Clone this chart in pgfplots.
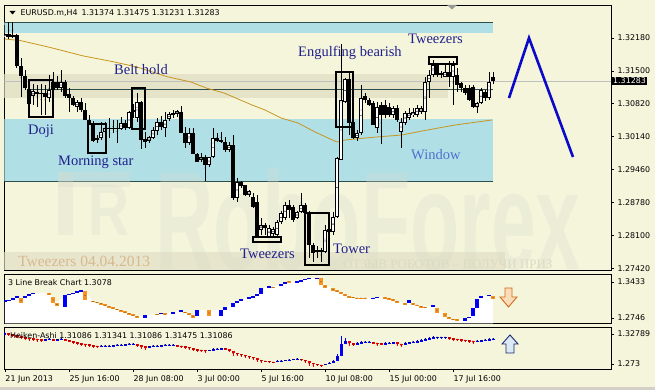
\documentclass[border=0pt]{standalone}
\usepackage{fontspec}
\setmainfont{Liberation Serif}
\newfontfamily\mtfont{DejaVu Sans}
\newfontfamily\wmfont{Liberation Sans}
\usepackage{graphicx}
\usepackage{pgfplots}
\pgfplotsset{compat=1.18}
\usepackage{pgfplotstable}

\definecolor{chartbg}{HTML}{F5F5DC}
\definecolor{bandcyan}{HTML}{B0E0E6}
\definecolor{bandbeige}{HTML}{E5E3C8}
\definecolor{bandlow}{HTML}{E7E5CB}
\definecolor{darkteal}{HTML}{2F4F4F}
\definecolor{maline}{HTML}{C8961E}
\definecolor{notenavy}{HTML}{20208C}
\definecolor{windowblue}{HTML}{4F6FD0}
\definecolor{tantext}{HTML}{D8B890}
\definecolor{wmcol}{HTML}{D8DCCC}
\definecolor{lbblue}{HTML}{0000FF}
\definecolor{lborange}{HTML}{F7931E}
\definecolor{hared}{HTML}{FF0000}
\definecolor{hablue}{HTML}{0000FF}
\definecolor{zigzag}{HTML}{0A0AC8}
\definecolor{winframe}{HTML}{D4D0C8}
\definecolor{downedge}{HTML}{D2691E}
\definecolor{downfill}{HTML}{F9DDB8}
\definecolor{upedge}{HTML}{1A2A6C}
\definecolor{upfill}{HTML}{DBE9F5}

% EURUSD H4 candles: index, open, high, low, close
\pgfplotstableread{
k o h l c
0 1.32200 1.32448 1.32014 1.32262
1 1.32262 1.32510 1.32159 1.32200
2 1.32200 1.32510 1.32180 1.32242
3 1.32242 1.32262 1.31559 1.31601
4 1.31601 1.31766 1.30960 1.31394
5 1.31394 1.31518 1.31105 1.31146
6 1.31125 1.31167 1.30774 1.30815
7 1.30981 1.31229 1.30795 1.31084
8 1.31063 1.31208 1.30753 1.31022
9 1.31022 1.31229 1.30588 1.31043
10 1.31043 1.31208 1.30588 1.30960
11 1.30939 1.31415 1.30857 1.31105
12 1.31105 1.31477 1.31001 1.31270
13 1.31270 1.31394 1.31105 1.31146
14 1.31146 1.31518 1.31063 1.31270
15 1.31270 1.31311 1.30939 1.30981
16 1.31022 1.31146 1.30650 1.30939
17 1.30939 1.30981 1.30774 1.30795
18 1.30753 1.30898 1.30650 1.30857
19 1.30857 1.30939 1.30650 1.30691
20 1.30691 1.30836 1.30485 1.30485
21 1.30485 1.30588 1.30381 1.30423
22 1.30423 1.30464 1.30030 1.30051
23 1.30071 1.30175 1.30009 1.30113
24 1.30113 1.30443 1.30071 1.30237
25 1.30237 1.30443 1.30195 1.30319
26 1.30319 1.30526 1.30113 1.30299
27 1.30299 1.30485 1.30216 1.30319
28 1.30319 1.30485 1.30009 1.30299
29 1.30299 1.30547 1.30278 1.30423
30 1.30423 1.30485 1.30278 1.30319
31 1.30319 1.30671 1.30299 1.30650
32 1.30650 1.30815 1.30526 1.30691
33 1.30526 1.31043 1.30443 1.30857
34 1.30857 1.30877 1.29885 1.30071
35 1.30092 1.30237 1.29906 1.30030
36 1.30051 1.30154 1.30009 1.30133
37 1.30113 1.30340 1.30092 1.30278
38 1.30257 1.30526 1.30175 1.30443
39 1.30443 1.30567 1.30278 1.30340
40 1.30319 1.30650 1.30133 1.30485
41 1.30505 1.30650 1.30464 1.30609
42 1.30609 1.30691 1.30526 1.30629
43 1.30609 1.30691 1.30547 1.30671
44 1.30650 1.30774 1.30216 1.30216
45 1.30216 1.30340 1.29906 1.30009
46 1.30009 1.30319 1.29968 1.30216
47 1.30216 1.30319 1.29782 1.29782
48 1.29782 1.29802 1.29616 1.29616
49 1.29658 1.29802 1.29616 1.29720
50 1.29720 1.29761 1.29224 1.29554
51 1.29554 1.29720 1.29513 1.29720
52 1.29720 1.30319 1.29699 1.30113
53 1.30113 1.30216 1.30030 1.30051
54 1.30071 1.30237 1.30009 1.30030
55 1.30030 1.30133 1.29823 1.29865
56 1.29865 1.30030 1.29823 1.29968
57 1.29968 1.30175 1.28831 1.28872
58 1.28872 1.29286 1.28790 1.29203
59 1.29203 1.29224 1.29079 1.29120
60 1.29141 1.29141 1.28914 1.28934
61 1.28934 1.29038 1.28893 1.29017
62 1.28893 1.28976 1.28666 1.28686
63 1.28790 1.28934 1.28066 1.28066
64 1.28211 1.28459 1.28108 1.28314
65 1.28314 1.28356 1.28108 1.28252
66 1.28066 1.28314 1.28046 1.28252
67 1.28128 1.28273 1.28066 1.28232
68 1.28108 1.28418 1.28066 1.28376
69 1.28376 1.28604 1.28335 1.28562
70 1.28459 1.28790 1.28418 1.28728
71 1.28728 1.28831 1.28459 1.28624
72 1.28686 1.28728 1.28376 1.28418
73 1.28459 1.28604 1.28438 1.28583
74 1.28583 1.28976 1.28562 1.28728
75 1.28728 1.28769 1.28521 1.28562
76 1.28562 1.28604 1.27632 1.27901
77 1.27901 1.27942 1.27549 1.27735
78 1.27797 1.27880 1.27632 1.27756
79 1.27756 1.27839 1.27549 1.27797
80 1.27756 1.28314 1.27735 1.28211
81 1.28170 1.28294 1.28087 1.28232
82 1.28170 1.28583 1.28108 1.28480
83 1.28480 1.29720 1.28459 1.29699
84 1.29658 1.32056 1.29658 1.30898
85 1.30857 1.31353 1.30836 1.31332
86 1.31332 1.31456 1.30175 1.30423
87 1.30443 1.30485 1.30092 1.30113
88 1.30113 1.30278 1.30051 1.30216
89 1.30216 1.31208 1.30175 1.30939
90 1.30981 1.31043 1.30836 1.30898
91 1.30898 1.30939 1.30774 1.30795
92 1.30836 1.30877 1.30381 1.30381
93 1.30319 1.30857 1.30216 1.30753
94 1.30795 1.30857 1.29989 1.30588
95 1.30795 1.30898 1.30526 1.30588
96 1.30753 1.30836 1.30547 1.30588
97 1.30588 1.30774 1.30526 1.30733
98 1.30733 1.30795 1.30443 1.30485
99 1.30237 1.30526 1.29906 1.30443
100 1.30423 1.30671 1.30381 1.30629
101 1.30526 1.30733 1.30485 1.30629
102 1.30588 1.30733 1.30547 1.30650
103 1.30588 1.30795 1.30547 1.30733
104 1.30650 1.30774 1.30609 1.30733
105 1.30650 1.31373 1.30485 1.31270
106 1.31270 1.31518 1.30939 1.31415
107 1.31415 1.31725 1.31373 1.31621
108 1.31642 1.31663 1.31373 1.31415
109 1.31456 1.31497 1.31353 1.31415
110 1.31373 1.31621 1.31373 1.31477
111 1.31477 1.31704 1.31167 1.31373
112 1.31373 1.31704 1.30795 1.31621
113 1.31415 1.31559 1.31063 1.31208
114 1.31249 1.31270 1.31063 1.31146
115 1.31146 1.31208 1.31001 1.31043
116 1.31146 1.31208 1.30877 1.30898
117 1.31167 1.31208 1.30733 1.30753
118 1.30753 1.30857 1.30629 1.30836
119 1.30836 1.31146 1.30815 1.31105
120 1.31063 1.31105 1.30877 1.30939
121 1.30939 1.31477 1.30898 1.31270
122 1.31374 1.31475 1.31231 1.31283
}\candles

% 3 Line Break blocks: index, low, high, direction (1 up, 0 down)
\pgfplotstableread{
k lo hi up
0 1.30609 1.30800 1
1 1.30705 1.30896 1
2 1.30896 1.31277 1
3 1.31277 1.31563 1
4 1.30323 1.31277 0
5 1.31277 1.31659 1
6 1.31754 1.32041 1
7 1.32041 1.32231 1
11 1.31850 1.32231 0
12 1.30323 1.31468 0
13 1.29751 1.30323 0
15 1.29560 1.31850 1
16 1.31850 1.32041 1
17 1.32041 1.32231 1
18 1.32327 1.32517 1
19 1.32517 1.32708 1
20 1.30896 1.32613 0
22 1.30514 1.30705 0
23 1.30323 1.30514 0
24 1.30037 1.30323 0
25 1.29751 1.30037 0
26 1.29503 1.29751 0
27 1.29236 1.29503 0
28 1.28988 1.29236 0
29 1.28740 1.28988 0
30 1.28415 1.28701 0
31 1.28129 1.28415 0
32 1.27843 1.28129 0
33 1.27556 1.27843 0
35 1.27556 1.28034 1
38 1.28034 1.28224 0
39 1.28224 1.28415 1
40 1.28129 1.28320 0
42 1.28224 1.28606 1
44 1.28549 1.28892 1
45 1.28358 1.28663 0
46 1.28034 1.28358 0
47 1.27556 1.27938 0
48 1.27843 1.28988 1
51 1.27843 1.28988 0
54 1.27843 1.28988 1
55 1.28988 1.29560 1
57 1.29617 1.30266 1
58 1.30266 1.30705 1
59 1.30705 1.31029 1
61 1.30991 1.31373 1
62 1.31430 1.31621 1
63 1.31563 1.32041 1
64 1.32041 1.33128 1
66 1.33338 1.33567 1
67 1.33223 1.33414 0
69 1.33567 1.33948 1
70 1.34101 1.34292 1
71 1.34292 1.34483 0
73 1.34292 1.34483 1
74 1.34464 1.34712 1
75 1.34712 1.34902 1
76 1.34941 1.35131 1
78 1.34941 1.35131 1
79 1.33758 1.35036 0
80 1.33128 1.33758 0
82 1.32670 1.33128 0
83 1.32365 1.32708 0
84 1.32041 1.32422 0
85 1.31659 1.32041 0
86 1.31277 1.31659 0
87 1.31315 1.31468 0
88 1.31220 1.31334 0
89 1.31220 1.31334 0
90 1.31220 1.31334 0
92 1.31182 1.31334 1
93 1.31315 1.31468 1
95 1.31220 1.31373 0
96 1.31048 1.31220 0
97 1.30800 1.30991 0
98 1.30476 1.30648 0
100 1.29999 1.30266 0
101 1.30266 1.30896 1
102 1.29999 1.30266 0
103 1.29846 1.29999 0
104 1.29522 1.29713 0
105 1.29407 1.29560 0
107 1.29503 1.29942 1
108 1.28358 1.29312 0
110 1.27709 1.28358 0
111 1.27328 1.27709 0
112 1.27137 1.27328 0
113 1.27022 1.27175 0
115 1.26946 1.27404 1
116 1.27404 1.27709 1
117 1.27843 1.29312 1
118 1.29312 1.31029 1
119 1.31220 1.31659 1
121 1.31659 1.31850 1
122 1.31029 1.31659 0
}\lbdata

% Heiken-Ashi candles: index, open, high, low, close, direction
\pgfplotstableread{
k o h l c up
0 1.32789 1.33155 1.32789 1.32972 1
1 1.32972 1.32972 1.32423 1.32789 0
2 1.32789 1.32789 1.32240 1.32606 0
3 1.32606 1.32606 1.32057 1.32423 0
4 1.32423 1.32423 1.31874 1.32240 0
5 1.32240 1.32240 1.31691 1.32057 0
6 1.32057 1.32057 1.31508 1.32057 0
7 1.32057 1.32057 1.31508 1.31874 0
8 1.31874 1.31874 1.31325 1.31874 0
9 1.31874 1.31874 1.31325 1.31691 0
10 1.31691 1.31874 1.31691 1.31874 1
11 1.31874 1.32057 1.31874 1.31874 1
12 1.31874 1.31874 1.31508 1.31691 0
13 1.31691 1.31874 1.31691 1.31874 1
14 1.31874 1.32057 1.31874 1.31874 1
15 1.31874 1.31874 1.31508 1.31691 0
16 1.31691 1.31691 1.31325 1.31508 0
17 1.31508 1.31508 1.30959 1.31325 0
18 1.31325 1.31325 1.30776 1.31142 0
19 1.31142 1.31142 1.30593 1.30959 0
20 1.30959 1.30959 1.30410 1.30959 0
21 1.30959 1.30959 1.30410 1.30776 0
22 1.30776 1.30776 1.30227 1.30593 0
23 1.30593 1.30593 1.30227 1.30593 0
24 1.30593 1.30776 1.30593 1.30593 1
25 1.30593 1.30776 1.30593 1.30593 1
26 1.30593 1.30776 1.30593 1.30593 1
27 1.30593 1.30776 1.30593 1.30776 1
28 1.30776 1.30959 1.30776 1.30776 1
29 1.30776 1.30959 1.30776 1.30776 1
30 1.30776 1.30959 1.30776 1.30959 1
31 1.30959 1.31142 1.30959 1.30959 1
32 1.30959 1.31142 1.30959 1.30959 1
33 1.30959 1.30959 1.30410 1.30776 0
34 1.30776 1.30776 1.30044 1.30593 0
35 1.30593 1.30593 1.29861 1.30410 0
36 1.30410 1.30593 1.30410 1.30593 1
37 1.30593 1.30776 1.30593 1.30593 1
38 1.30593 1.30776 1.30593 1.30593 1
39 1.30593 1.30776 1.30593 1.30776 1
40 1.30776 1.30959 1.30776 1.30776 1
41 1.30776 1.30959 1.30776 1.30776 1
42 1.30776 1.30959 1.30776 1.30776 1
43 1.30776 1.30776 1.30410 1.30593 0
44 1.30593 1.30593 1.30227 1.30593 0
45 1.30593 1.30593 1.30044 1.30410 0
46 1.30410 1.30410 1.29861 1.30227 0
47 1.30227 1.30227 1.29678 1.30044 0
48 1.30044 1.30044 1.29495 1.29861 0
49 1.29861 1.29861 1.29495 1.29861 0
50 1.29861 1.29861 1.29312 1.29678 0
51 1.29678 1.29861 1.29678 1.29861 1
52 1.29861 1.30227 1.29861 1.30044 1
53 1.30044 1.30227 1.30044 1.30044 1
54 1.30044 1.30227 1.30044 1.30227 1
55 1.30227 1.30227 1.29861 1.30044 0
56 1.30044 1.30044 1.29495 1.29678 0
57 1.29678 1.29678 1.28763 1.29312 0
58 1.29312 1.29312 1.28763 1.29129 0
59 1.29129 1.29129 1.28580 1.28946 0
60 1.28946 1.28946 1.28397 1.28763 0
61 1.28763 1.28763 1.28214 1.28580 0
62 1.28580 1.28580 1.28031 1.28397 0
63 1.28397 1.28397 1.27665 1.28031 0
64 1.28031 1.28031 1.27482 1.27848 0
65 1.27848 1.27848 1.27665 1.27848 0
66 1.27848 1.27848 1.27482 1.27665 0
67 1.27665 1.27665 1.27482 1.27665 0
68 1.27665 1.28031 1.27665 1.27848 1
69 1.27848 1.28031 1.27848 1.27848 1
70 1.27848 1.28031 1.27848 1.28031 1
71 1.28031 1.28214 1.28031 1.28031 1
72 1.28031 1.28214 1.28031 1.28214 1
73 1.28214 1.28397 1.28214 1.28214 1
74 1.28214 1.28214 1.27848 1.28031 0
75 1.28031 1.28031 1.27482 1.27848 0
76 1.27848 1.27848 1.26933 1.27482 0
77 1.27482 1.27482 1.26750 1.27299 0
78 1.27299 1.27299 1.26933 1.27116 0
79 1.27116 1.27116 1.26750 1.27116 0
80 1.27116 1.27299 1.27116 1.27299 1
81 1.27299 1.27665 1.27299 1.27482 1
82 1.27482 1.28031 1.27482 1.27848 1
83 1.27848 1.29129 1.27848 1.28763 1
84 1.28763 1.32423 1.28763 1.30959 1
85 1.30959 1.32057 1.30959 1.31508 1
86 1.31508 1.31508 1.30593 1.31142 0
87 1.31142 1.31142 1.30593 1.30959 0
88 1.30959 1.31325 1.30959 1.31142 1
89 1.31142 1.31508 1.31142 1.31325 1
90 1.31325 1.31508 1.31325 1.31325 1
91 1.31325 1.31508 1.31325 1.31325 1
92 1.31325 1.31325 1.30959 1.31142 0
93 1.31142 1.31142 1.30593 1.31142 0
94 1.31142 1.31142 1.30776 1.30959 0
95 1.30959 1.31325 1.30959 1.31142 1
96 1.31142 1.31325 1.31142 1.31142 1
97 1.31142 1.31325 1.31142 1.31325 1
98 1.31325 1.31325 1.30593 1.30959 0
99 1.30959 1.30959 1.30410 1.30959 0
100 1.30959 1.31325 1.30959 1.31142 1
101 1.31142 1.31325 1.31142 1.31325 1
102 1.31325 1.31508 1.31325 1.31325 1
103 1.31325 1.31691 1.31325 1.31508 1
104 1.31508 1.31874 1.31508 1.31691 1
105 1.31691 1.32057 1.31691 1.31874 1
106 1.31874 1.32240 1.31874 1.32057 1
107 1.32057 1.32423 1.32057 1.32240 1
108 1.32240 1.32240 1.32057 1.32240 1
109 1.32240 1.32240 1.32057 1.32240 1
110 1.32240 1.32240 1.32057 1.32240 1
111 1.32240 1.32240 1.31691 1.32057 0
112 1.32057 1.32057 1.31508 1.31874 0
113 1.31874 1.31874 1.31508 1.31874 0
114 1.31874 1.31874 1.31325 1.31691 0
115 1.31691 1.31691 1.31325 1.31691 0
116 1.31691 1.31691 1.31142 1.31508 0
117 1.31508 1.31508 1.30959 1.31508 0
118 1.31508 1.31691 1.31508 1.31508 1
119 1.31508 1.31691 1.31508 1.31691 1
120 1.31691 1.31874 1.31691 1.31691 1
121 1.31691 1.32057 1.31691 1.31874 1
122 1.31874 1.32057 1.31874 1.31874 1
}\hadata

\pgfplotsset{
  mtpanel/.style={
    scale only axis, width=606.5pt, xmin=-0.125, xmax=151.5,
    anchor=south west,
    axis line style={black, line width=0.8pt},
    axis background/.style={fill=chartbg},
    xtick=\empty,
    ytick pos=right, yticklabel pos=right,
    tick align=outside, major tick length=3pt,
    tick style={black, line width=0.6pt},
    ticklabel style={font=\mtfont\fontsize{7.9}{9}\selectfont},
  },
  % vertical bars drawn as error bars only (no visible markers)
  ebar/.style n args={2}{only marks, mark=*, mark size=0.1pt,
    mark options={draw=none, fill=none},
    error bars/.cd, y dir=both, y explicit, error mark=none,
    error bar style={draw=#1, line width=#2}},
}

\begin{document}
\begin{tikzpicture}
\path[use as bounding box] (0pt,0pt) rectangle (655pt,390pt);
\fill[chartbg] (0pt,0pt) rectangle (655pt,390pt);
\fill[winframe] (0pt,0pt) rectangle (655pt,2.5pt);

% ---------------- main price panel ----------------
\begin{axis}[mtpanel, at={(4.5pt,120pt)}, height=265pt,
  ymin=1.27384, ymax=1.32862,
  ytick={1.27420,1.28100,1.28780,1.29460,1.30140,1.30820,1.31500,1.32180},
  yticklabels={1.27420,1.28100,1.28780,1.29460,1.30140,1.30820,1.31500,1.32180}]

  % zones
  \fill[bandcyan] (axis cs:-0.125,1.32510) rectangle (axis cs:122,1.32273);
  \fill[bandcyan] (axis cs:-0.125,1.30497) rectangle (axis cs:122,1.29214);
  \fill[bandbeige] (axis cs:-0.125,1.31436) rectangle (axis cs:110.75,1.30939);
  \fill[bandlow] (axis cs:-0.125,1.27756) rectangle (axis cs:125,1.27384);
  \draw[darkteal, line width=0.8pt] (axis cs:-0.125,1.32510) -- (axis cs:122,1.32510);
  \draw[darkteal, line width=0.8pt] (axis cs:-0.125,1.29214) -- (axis cs:122,1.29214);

  % watermark logo and name
  \begin{scope}[wmcol, opacity=0.3]
    \fill (axis cs:13.25,1.29410) rectangle (axis cs:17,1.28100);
    \fill (axis cs:13.25,1.29410) rectangle (axis cs:31.25,1.29100);
  \end{scope}
  \node[anchor=base west, inner sep=0pt, text=wmcol, text opacity=0.3]
    at (axis cs:20.75,1.28100) {\scalebox{0.78}[1]{\wmfont\bfseries\fontsize{73}{73}\selectfont R}};
  \node[anchor=base west, inner sep=0pt, text=wmcol, text opacity=0.3]
    at (axis cs:37.5,1.27384) {\scalebox{0.576}[1]{\wmfont\bfseries\fontsize{140}{140}\selectfont RoboForex}};

  \node[anchor=base west, inner sep=0pt, text=tantext, font=\fontsize{15.5}{16}\selectfont]
    at (axis cs:3.25,1.27446) {Tweezers 04.04.2013};
  \node[anchor=base west, inner sep=0pt, text=black!5!bandlow, font=\fontsize{13}{14}\selectfont]
    at (axis cs:84.5,1.27425) {ОТЗЫВ РОБОТОВ – ПОЛУЧИ ПРИЗ};

  % level lines
  \draw[black!25, line width=0.6pt] (axis cs:-0.125,1.31283) -- (axis cs:151.5,1.31283);
  \draw[darkteal, line width=0.8pt] (axis cs:5.5,1.31125) -- (axis cs:122,1.31125);

  % moving average
  \addplot[maline, line width=0.8pt] coordinates {
    (0,1.32159) (4,1.32124) (11,1.31990) (19.5,1.31810) (27,1.31690) (33,1.31580)
    (40.5,1.31380) (46.5,1.31270) (50.5,1.31140) (54.75,1.31043) (61.75,1.30795)
    (65,1.30691) (69,1.30526) (73.25,1.30423) (77.5,1.30237) (80.75,1.30113)
    (83,1.30030) (85,1.30071) (92.75,1.30133) (99.25,1.30175) (104.25,1.30257)
    (112.5,1.30381) (121.75,1.30485)};

  % candles: shadows, bodies, hollow interiors of rising candles
  \addplot[ebar={black}{1pt}] table[x=k,
    y expr={0.5*(\thisrow{h}+\thisrow{l})},
    y error expr={0.5*(\thisrow{h}-\thisrow{l})}] {\candles};
  \addplot[ebar={black}{3.4pt}] table[x=k,
    y expr={0.5*(\thisrow{o}+\thisrow{c})},
    y error expr={max(0.5*abs(\thisrow{c}-\thisrow{o}),0.0001)}] {\candles};
  \addplot[ebar={white}{1.4pt}] table[x=k,
    y expr={0.5*(\thisrow{o}+\thisrow{c})},
    y error expr={max(0.5*(\thisrow{c}-\thisrow{o})-0.00021,0)}] {\candles};

  % pattern frames
  \begin{scope}[black, line width=1.8pt]
    \draw (axis cs:6,1.31311) rectangle (axis cs:12,1.30547);
    \draw (axis cs:20.75,1.30402) rectangle (axis cs:25.25,1.29802);
    \draw (axis cs:31.75,1.31146) rectangle (axis cs:35,1.30299);
    \draw (axis cs:82.75,1.31477) rectangle (axis cs:87,1.30340);
    \draw (axis cs:106,1.31787) rectangle (axis cs:113,1.31642);
    \draw (axis cs:62,1.28066) rectangle (axis cs:69,1.27963);
    \draw (axis cs:75,1.28562) rectangle (axis cs:81,1.27487);
  \end{scope}

  % pattern names
  \begin{scope}[every node/.style={anchor=base west, inner sep=0pt, text=notenavy,
      font=\fontsize{14.5}{15}\selectfont}]
    \node at (axis cs:5.75,1.30195) {Doji};
    \node at (axis cs:13.25,1.29534) {Morning star};
    \node at (axis cs:27.25,1.31415) {Belt hold};
    \node at (axis cs:73.25,1.31787) {Engulfing bearish};
    \node at (axis cs:100.75,1.32076) {Tweezers};
    \node at (axis cs:58.75,1.27632) {Tweezers};
    \node at (axis cs:82,1.27735) {Tower};
    \node[text=windowblue] at (axis cs:101.5,1.29658) {Window};
  \end{scope}

  % expected path
  \addplot[zigzag, line width=2.6pt] coordinates {(126,1.30939) (131,1.32180) (142,1.29720)};
\end{axis}

% ---------------- 3 Line Break panel ----------------
\begin{axis}[mtpanel, at={(4.5pt,66.5pt)}, height=49.5pt,
  ymin=1.26412, ymax=1.35856,
  ytick={1.2746,1.3433}, yticklabels={1.2746,1.3433}]
  \addplot[fill=white, draw=none] table[x=k, y=hi] {\lbdata} \closedcycle;
  \addplot[restrict expr to domain={\thisrow{up}}{0.5:1.5}, ebar={lbblue}{3.6pt}]
    table[x=k, y expr={0.5*(\thisrow{lo}+\thisrow{hi})},
      y error expr={max(0.5*(\thisrow{hi}-\thisrow{lo}),0.0008)}] {\lbdata};
  \addplot[restrict expr to domain={\thisrow{up}}{-0.5:0.5}, ebar={lborange}{3.6pt}]
    table[x=k, y expr={0.5*(\thisrow{lo}+\thisrow{hi})},
      y error expr={max(0.5*(\thisrow{hi}-\thisrow{lo}),0.0008)}] {\lbdata};
\end{axis}

% ---------------- Heiken-Ashi panel ----------------
\begin{axis}[mtpanel, at={(4.5pt,21pt)}, height=42pt,
  ymin=1.26384, ymax=1.34070,
  ytick={1.273,1.32789}, yticklabels={1.273,1.32789},
  xtick={0,16,32,48,64,80,96,112},
  xticklabels={21 Jun 2013,25 Jun 16:00,28 Jun 08:00,3 Jul 00:00,5 Jul 16:00,10 Jul 08:00,15 Jul 00:00,17 Jul 16:00},
  xtick pos=left,
  xticklabel style={anchor=north west, inner sep=0pt, xshift=0.3pt, yshift=-3pt}]
  \addplot[restrict expr to domain={\thisrow{up}}{0.5:1.5}, ebar={hablue}{1pt}]
    table[x=k, y expr={0.5*(\thisrow{h}+\thisrow{l})}, y error expr={0.5*(\thisrow{h}-\thisrow{l})}] {\hadata};
  \addplot[restrict expr to domain={\thisrow{up}}{-0.5:0.5}, ebar={hared}{1pt}]
    table[x=k, y expr={0.5*(\thisrow{h}+\thisrow{l})}, y error expr={0.5*(\thisrow{h}-\thisrow{l})}] {\hadata};
  \addplot[restrict expr to domain={\thisrow{up}}{0.5:1.5}, ebar={hablue}{3pt}]
    table[x=k, y expr={0.5*(\thisrow{o}+\thisrow{c})},
      y error expr={max(0.5*abs(\thisrow{c}-\thisrow{o}),0.0005)}] {\hadata};
  \addplot[restrict expr to domain={\thisrow{up}}{-0.5:0.5}, ebar={hared}{3pt}]
    table[x=k, y expr={0.5*(\thisrow{o}+\thisrow{c})},
      y error expr={max(0.5*abs(\thisrow{c}-\thisrow{o}),0.0005)}] {\hadata};
\end{axis}

% ---------------- captions and markers ----------------
\fill[black] (9.5pt,379pt) -- (15.5pt,379pt) -- (12.5pt,375.5pt) -- cycle;
\node[anchor=west, inner sep=0pt, font=\mtfont\fontsize{7.9}{9}\selectfont]
  at (20.5pt,377pt) {EURUSD.m,H4\hspace{4pt}1.31374 1.31475 1.31231 1.31283};
\fill[black!40] (447pt,385pt) -- (457pt,385pt) -- (452pt,380.5pt) -- cycle;

\node[anchor=west, fill=black, text=white, inner xsep=1.5pt, inner ysep=1.5pt,
  font=\mtfont\fontsize{7.9}{9}\selectfont] at (611.5pt,309pt) {1.31283};

\node[anchor=west, inner sep=0pt, font=\mtfont\fontsize{7.9}{9}\selectfont]
  at (8pt,107pt) {3 Line Break Chart 1.3078};
\node[anchor=west, inner sep=0pt, font=\mtfont\fontsize{7.9}{9}\selectfont]
  at (10pt,54pt) {Heiken-Ashi 1.31086 1.31341 1.31086 1.31475 1.31086};

% direction arrows
\filldraw[draw=downedge, fill=downfill, line width=0.9pt, line join=miter]
  (505pt,102pt) -- (512pt,102pt) -- (512pt,93pt) -- (517pt,93pt) -- (508.5pt,83pt)
  -- (500pt,93pt) -- (505pt,93pt) -- cycle;
\filldraw[draw=upedge, fill=upfill, line width=0.9pt, line join=miter]
  (510pt,55pt) -- (518pt,46pt) -- (514pt,46pt) -- (514pt,37pt) -- (506pt,37pt)
  -- (506pt,46pt) -- (502pt,46pt) -- cycle;
\end{tikzpicture}
\end{document}
